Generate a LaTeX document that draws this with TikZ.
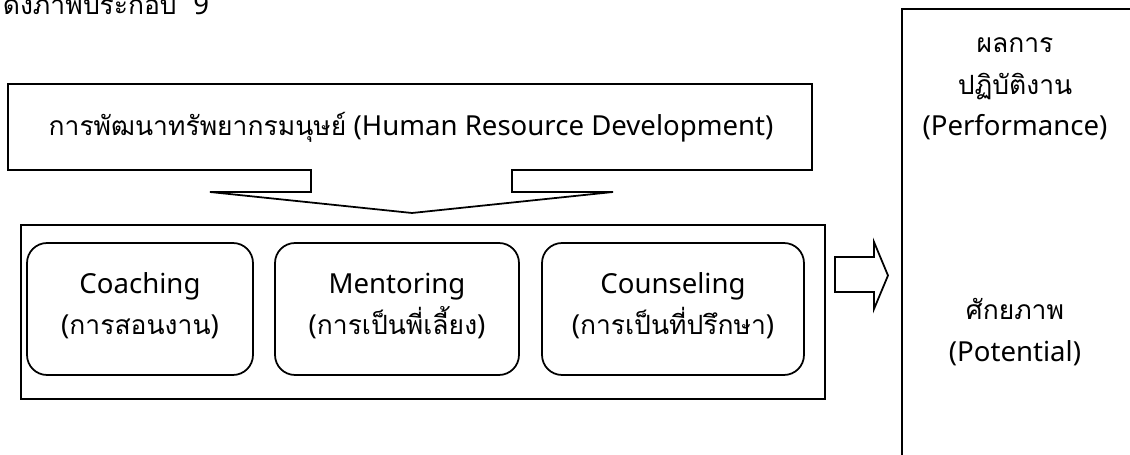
\documentclass[tikz,border=0pt]{standalone}
\usepackage{fontspec}
\setmainfont{Noto Sans}
\newfontfamily\thaifont[Script=Thai, Scale=0.96]{Loma}
\newcommand\thx[1]{{\thaifont #1}}
\begin{document}
\begin{tikzpicture}[x=0.02cm, y=-0.02cm, line width=1pt,
  lbl/.style={font=\fontsize{15.7}{23.5}\selectfont, align=center, inner sep=0pt},
  method/.style={draw, rounded corners=0.4cm, minimum height=2.64cm, inner sep=0pt}]
\clip (0,0) rectangle (1130,455);

% caption line above the figure
\node[lbl, anchor=base west] (caption) at (2,15) {\thx{ดังภาพประกอบ}\hspace{0.6em}9};

% human resource development callout with its downward pointer
\node[lbl] (hrd) at (411,127) {\thx{การพัฒนาทรัพยากรมนุษย์} (Human Resource Development)};
\draw[line join=miter] (311,170) -- (8,170) -- (8,84) -- (812,84) -- (812,170) -- (512,170)
  -- (512,192) -- (613,192) -- (412,213) -- (210,192) -- (311,192) -- cycle;

% frame holding the three methods
\node[draw, minimum width=16.08cm, minimum height=3.48cm, inner sep=0pt] (group) at (423,312) {};
\node[method, minimum width=4.52cm] (coach)  at (140,309) {};
\node[method, minimum width=4.88cm] (mentor) at (397,309) {};
\node[method, minimum width=5.24cm] (couns)  at (673,309) {};
\node[lbl] (coachtxt)  at ([yshift=0.06cm]coach.center)  {Coaching\\(\thx{การสอนงาน})};
\node[lbl] (mentortxt) at ([yshift=0.06cm]mentor.center) {Mentoring\\(\thx{การเป็นพี่เลี้ยง})};
\node[lbl] (counstxt)  at ([yshift=0.06cm]couns.center)  {Counseling\\(\thx{การเป็นที่ปรึกษา})};

% block arrow towards the outcomes
\draw[line join=miter] (835,257) -- (874,257) -- (874,242) -- (888,275.5) -- (874,309)
  -- (874,292) -- (835,292) -- cycle;

% outcomes column
\draw (1160,9) -- (902,9) -- (902,480);
\node[lbl] (perf) at (1015,89) {\thx{ผลการ}\\\thx{ปฏิบัติงาน}\\(Performance)};
\node[lbl] (pot)  at (1015,332) {\thx{ศักยภาพ}\\(Potential)};
\end{tikzpicture}
\end{document}
